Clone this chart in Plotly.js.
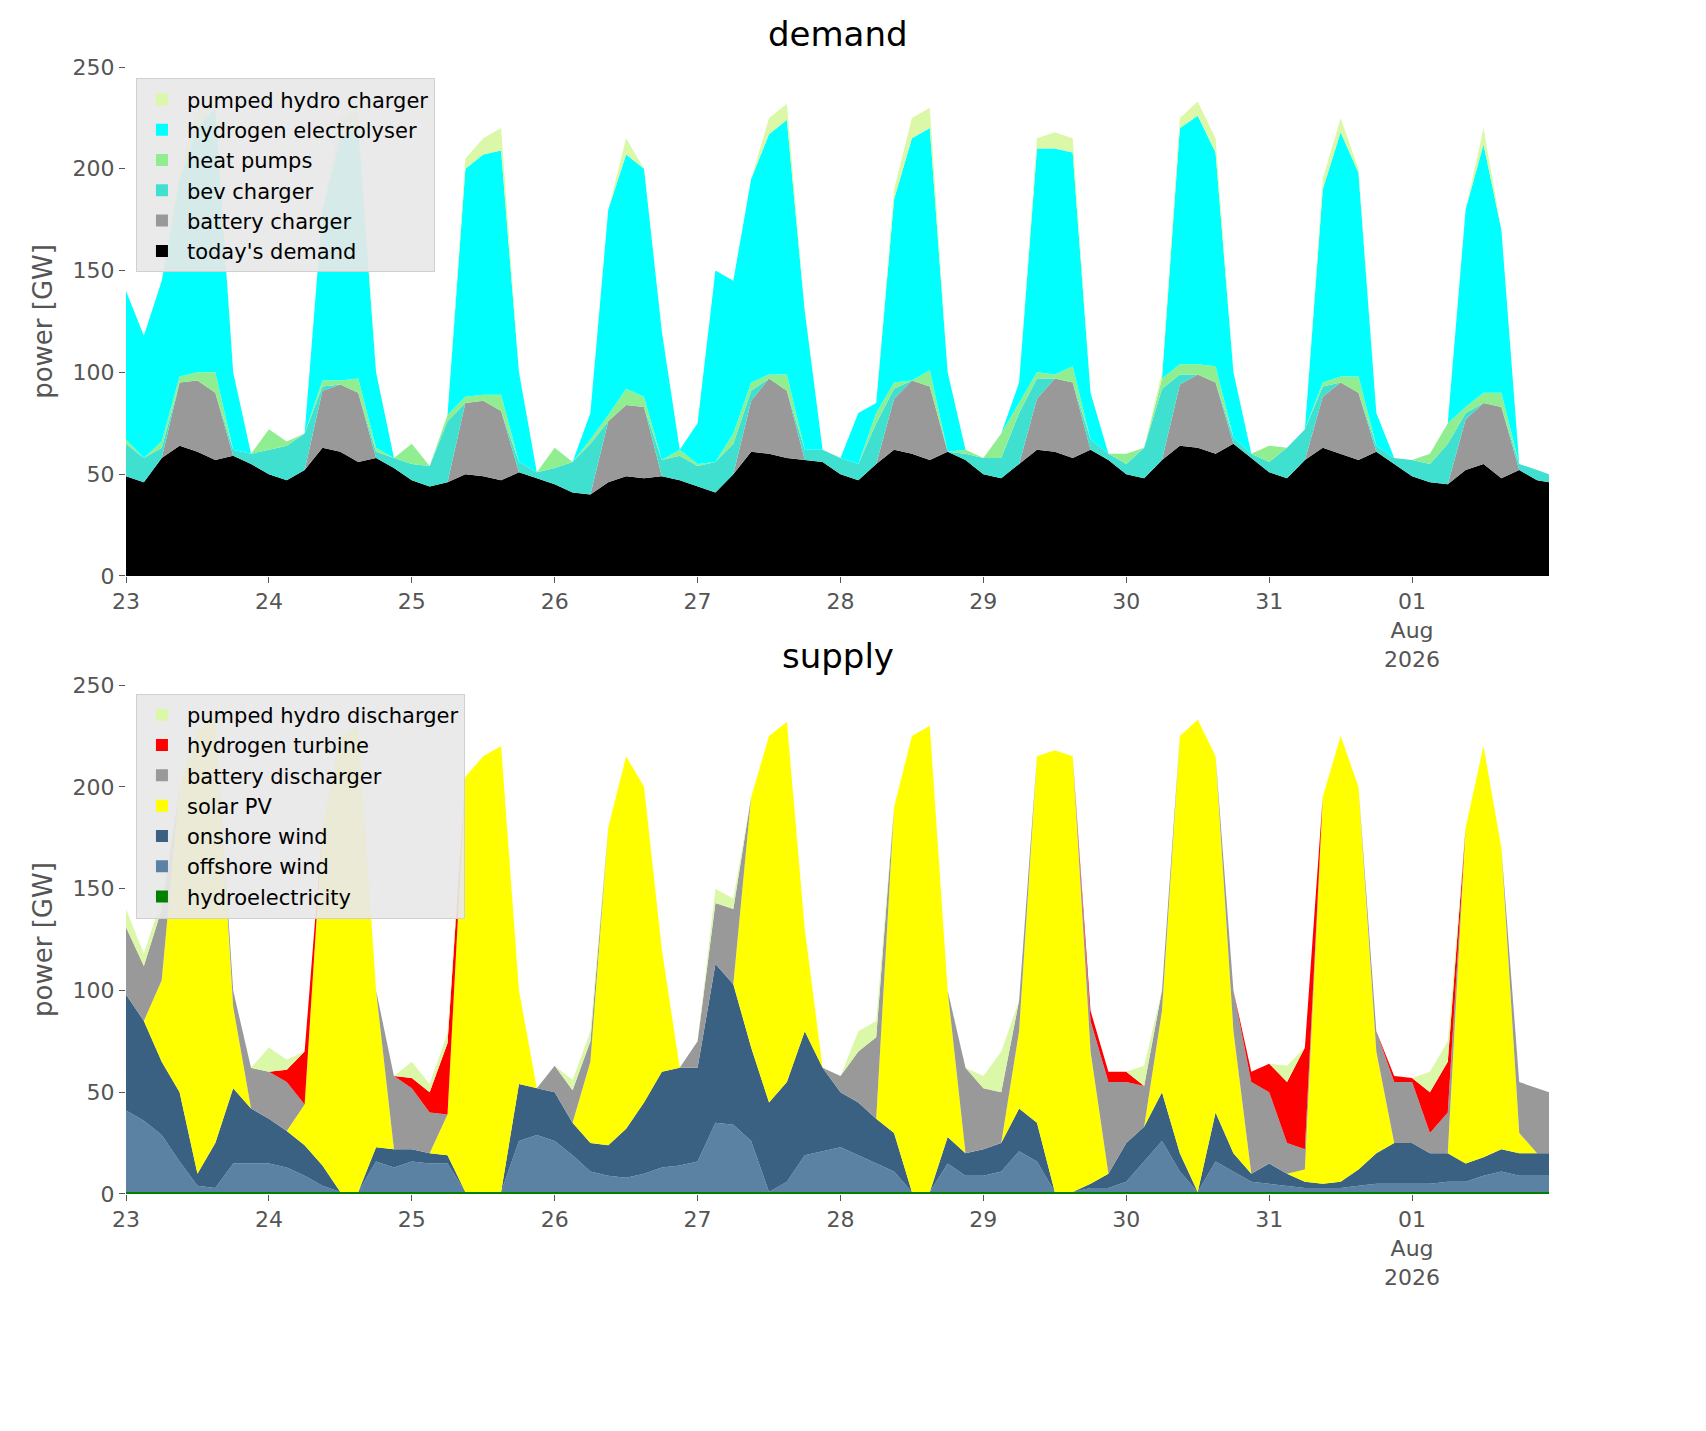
<!DOCTYPE html>
<html>
<head>
<meta charset="utf-8">
<script src="https://cdn.plot.ly/plotly-3.0.1.min.js"></script>
<style>body{margin:0;background:#fff}</style>
</head>
<body>
<div id="plot" style="width:1706px;height:1431px"></div>
<script>
// 3-hourly samples, 23 Jul 00:00 .. 01 Aug 21:00, plus 01 Aug 23:00
var times = [];
for (var d = 0; d < 10; d++) {
    for (var h = 0; h < 24; h += 3) {
        times.push(new Date(Date.UTC(2026, 6, 23 + d, h)).toISOString().slice(0, 16));
    }
}
times.push('2026-08-01T23:00');

// demand [GW]
var todaysDemand = [
 49,46,58,64,61,57,59,55,  50,47,52,63,61,56,58,53,  47,44,46,50,49,47,51,48,
 45,41,40,46,49,48,49,47,  44,41,50,61,60,58,57,56,  50,47,55,62,60,57,61,57,
 50,48,55,62,61,58,62,57,  50,48,57,64,63,60,65,58,  51,48,57,63,60,57,61,55,
 49,46,45,52,55,48,52,47,  46];
var batteryCharger = [
 0,0,0,31,35,33,0,0,  0,0,0,28,33,34,0,0,  0,0,0,35,37,34,0,0,
 0,0,0,30,35,35,0,0,  0,0,0,25,37,33,0,0,  0,0,0,25,36,36,0,0,
 0,0,0,25,36,37,0,0,  0,0,0,30,36,35,0,0,  0,0,0,25,35,33,0,0,
 0,0,0,25,30,35,0,0,  0];
var bevCharger = [
 16,12,5,0,0,0,3,5,  12,17,18,2,0,0,3,5,  8,10,30,0,0,0,5,3,
 8,15,25,0,0,0,8,12,  10,15,15,5,0,0,5,6,  8,8,20,5,0,0,0,3,
 8,10,25,10,0,0,5,3,  5,15,35,5,0,0,3,2,  5,15,15,5,0,0,3,3,
 8,9,20,3,0,0,3,5,  4];
var heatPumps = [
 2,0,3,3,4,10,0,0,  10,2,0,3,2,7,2,0,  10,0,3,3,3,8,0,0,
 10,0,2,3,8,5,0,3,  1,0,5,4,2,8,0,0,  0,0,5,3,0,8,0,2,
 0,12,5,3,2,8,0,0,  5,0,5,5,5,8,0,0,  8,0,0,2,3,8,0,0,
 0,5,10,3,5,7,0,0,  0];
var electrolyser = [
 73,60,79,97,120,130,38,0,  0,0,0,84,119,123,37,0,  0,0,0,112,118,120,44,0,
 0,0,13,101,115,112,63,0,  20,94,75,100,118,125,68,0,  0,25,5,90,119,119,39,0,
 0,0,10,110,111,105,23,0,  0,0,0,116,122,105,32,0,  0,0,0,95,120,100,16,0,
 0,0,0,97,122,80,0,0,  0];
var pumpedCharger = [
 0,0,0,5,8,5,0,0,  0,0,0,0,10,10,0,0,  0,0,0,5,8,11,0,0,
 0,0,0,0,8,0,0,0,  0,0,0,0,8,8,0,0,  0,0,0,5,10,10,0,0,
 0,0,0,5,8,7,0,0,  0,0,3,5,7,7,0,0,  0,0,0,5,7,2,0,0,
 0,0,0,0,8,0,0,0,  0];

// supply [GW]
var hydro = times.map(function () { return 1; });
var offshore = [
 40,35,28,15,3,2,14,14,  14,12,8,3,0,0,15,12,  15,14,14,0,0,0,25,28,
 25,18,10,8,7,9,12,13,  15,34,33,25,0,5,18,20,  22,18,14,10,0,0,14,8,
 8,10,20,15,0,0,2,2,  5,15,25,10,0,15,10,5,  4,3,2,2,2,3,4,4,
 4,4,5,5,8,10,8,8,  8];
var onshore = [
 57,49,36,34,6,22,37,27,  22,18,15,10,0,0,7,9,  6,5,4,0,0,0,28,23,
 24,16,14,15,24,35,47,48,  46,78,69,46,44,49,61,41,  27,26,22,19,0,0,13,11,
 13,14,21,19,0,0,2,7,  19,17,24,9,0,24,9,4,  10,6,3,2,3,8,15,20,
 20,15,14,9,9,11,11,11,  11];
var solar = [
 0,0,40,150,218,210,40,0,  0,0,20,166,224,229,77,0,  0,0,20,204,214,219,46,0,
 0,0,40,156,183,155,60,0,  0,0,0,123,180,177,50,0,  0,0,0,160,224,229,72,0,
 0,0,38,180,217,214,65,0,  0,0,40,205,232,175,60,0,  0,0,6,190,219,188,50,0,
 0,0,0,165,202,148,10,0,  0];
var batteryDischarger = [
 33,27,35,0,0,0,8,20,  23,24,0,0,0,0,0,36,  30,20,0,0,0,0,0,0,
 13,16,10,0,0,0,0,0,  13,30,37,0,0,0,0,0,  8,25,40,0,0,0,0,42,
 30,25,15,0,0,0,15,45,  30,20,10,0,0,0,20,45,  35,15,10,0,0,0,10,30,
 30,10,20,0,0,0,25,32,  30];
var h2Turbine = [
 0,0,0,0,0,0,0,0,  0,6,26,0,0,0,0,0,  5,10,35,0,0,0,0,0,
 0,0,0,0,0,0,0,0,  0,0,0,0,0,0,0,0,  0,0,0,0,0,0,0,0,
 0,0,0,0,0,0,5,5,  5,0,0,0,0,0,0,5,  14,30,50,0,0,0,0,3,
 2,20,25,0,0,0,0,0,  0];
var pumpedDischarger = [
 9,6,5,0,0,0,0,0,  12,5,0,0,0,0,0,0,  8,4,5,0,0,0,0,0,
 0,5,5,0,0,0,0,0,  0,7,5,0,0,0,0,0,  0,10,8,0,0,0,0,0,
 6,20,0,0,0,0,0,0,  0,10,0,0,0,0,0,0,  0,8,0,0,0,0,0,0,
 0,10,10,0,0,0,0,0,  0];

var tickVals = ['2026-07-23','2026-07-24','2026-07-25','2026-07-26','2026-07-27',
                '2026-07-28','2026-07-29','2026-07-30','2026-07-31','2026-08-01'];
var tickText = ['23','24','25','26','27','28','29','30','31','01<br>Aug<br>2026'];

var traces = [];
function area(name, y, color, ax, group) {
    traces.push({
        x: times, y: y, name: name, type: 'scatter', mode: 'lines',
        stackgroup: group, fillcolor: color, line: {width: 0, color: color},
        xaxis: ax, yaxis: ax.replace('x', 'y'), showlegend: false, hoverinfo: 'skip'
    });
    // empty bar, only to get a filled box in the legend
    traces.push({
        x: [null], y: [null], name: name, type: 'bar', marker: {color: color},
        xaxis: ax, yaxis: ax.replace('x', 'y'),
        legend: group == 'd' ? 'legend' : 'legend2'
    });
}

area("today's demand", todaysDemand, '#000000', 'x', 'd');
area('battery charger', batteryCharger, '#999999', 'x', 'd');
area('bev charger', bevCharger, '#40e0d0', 'x', 'd');
area('heat pumps', heatPumps, '#90ee90', 'x', 'd');
area('hydrogen electrolyser', electrolyser, '#00ffff', 'x', 'd');
area('pumped hydro charger', pumpedCharger, '#daf8a8', 'x', 'd');
area('hydroelectricity', hydro, '#008000', 'x2', 's');
area('offshore wind', offshore, '#5b82a3', 'x2', 's');
area('onshore wind', onshore, '#3b6182', 'x2', 's');
area('solar PV', solar, '#ffff00', 'x2', 's');
area('battery discharger', batteryDischarger, '#999999', 'x2', 's');
area('hydrogen turbine', h2Turbine, '#ff0000', 'x2', 's');
area('pumped hydro discharger', pumpedDischarger, '#daf8a8', 'x2', 's');

var tickFont = {family: 'DejaVu Sans', size: 22, color: '#555555'};
function xax(anchor) {
    return {
        anchor: anchor, type: 'date',
        range: ['2026-07-23 00:00', '2026-08-01 23:00'],
        tickvals: tickVals, ticktext: tickText, tickfont: tickFont,
        showgrid: false, zeroline: false, showline: false,
        ticks: 'outside', ticklen: 6, tickcolor: '#555555'
    };
}
function yax(dom, anchor) {
    return {
        domain: dom, anchor: anchor, range: [0, 250], tickvals: [0,50,100,150,200,250],
        tickfont: tickFont, showgrid: false, zeroline: false, showline: false,
        ticks: 'outside', ticklen: 6, tickcolor: '#555555',
        title: {text: 'power [GW]', font: {family: 'DejaVu Sans', size: 26, color: '#555555'}, standoff: 12}
    };
}
var legendBase = {
    x: 0.007, xanchor: 'left', yanchor: 'top', traceorder: 'reversed',
    bgcolor: 'rgba(232,232,232,0.92)', bordercolor: '#d0d0d0', borderwidth: 1,
    font: {family: 'DejaVu Sans', size: 21, color: '#000'}, itemwidth: 40
};

var layout = {
    width: 1706, height: 1431,
    margin: {l: 126, r: 157, t: 67, b: 237},
    paper_bgcolor: '#ffffff', plot_bgcolor: '#ffffff',
    showlegend: true, barmode: 'overlay',
    xaxis: xax('y'), yaxis: yax([0.5484, 1], 'x'),
    xaxis2: xax('y2'), yaxis2: yax([0, 0.4516], 'x2'),
    legend: Object.assign({}, legendBase, {y: 0.99}),
    legend2: Object.assign({}, legendBase, {y: 0.444}),
    annotations: [
        {text: 'demand', xref: 'paper', yref: 'paper', x: 0.5, y: 1.01, yanchor: 'bottom',
         showarrow: false, font: {family: 'DejaVu Sans', size: 34, color: '#000'}},
        {text: 'supply', xref: 'paper', yref: 'paper', x: 0.5, y: 0.458, yanchor: 'bottom',
         showarrow: false, font: {family: 'DejaVu Sans', size: 34, color: '#000'}}
    ]
};

Plotly.newPlot('plot', traces, layout, {displayModeBar: false});
</script>
</body>
</html>
